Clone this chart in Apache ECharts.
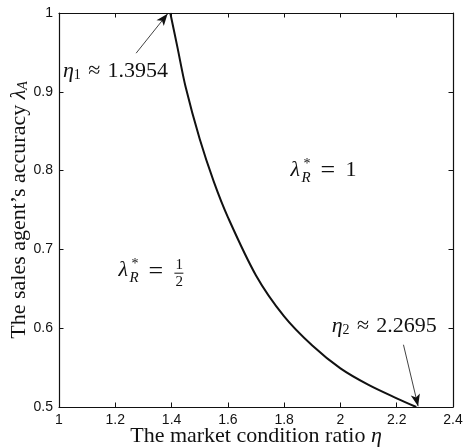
<!DOCTYPE html>
<html>
<head>
<meta charset="utf-8">
<title>market condition ratio</title>
<script src="https://cdn.jsdelivr.net/npm/echarts@6/dist/echarts.min.js"></script>
<style>
  html, body { margin: 0; padding: 0; background: #fff; }
</style>
</head>
<body>
<div id="main" style="width: 465px; height: 448px;"></div>
<script type="text/javascript">

// boundary curve
var etaValues = [1.3954, 1.42, 1.45, 1.5, 1.55, 1.6, 1.7, 1.8, 1.9, 2.0, 2.1, 2.2, 2.2695];
var accuracyValues = [1.0, 0.958, 0.906, 0.84, 0.786, 0.741, 0.667, 0.615, 0.578, 0.549, 0.528, 0.511, 0.5];

var xTicks = [1, 1.2, 1.4, 1.6, 1.8, 2, 2.2, 2.4];
var yTicks = [0.5, 0.6, 0.7, 0.8, 0.9, 1];

// arrows: [from, to] in data coords
var arrow1 = [[1.274, 0.949], [1.386, 0.999]];
var arrow2 = [[2.224, 0.579], [2.276, 0.501]];

var chartDom = document.getElementById('main');
var myChart = echarts.init(chartDom, null, { renderer: 'canvas' });

var serif = '"Liberation Serif", "DejaVu Serif", serif';
var sans = '"Liberation Sans", Arial, sans-serif';

var curve = etaValues.map(function (x, i) { return [x, accuracyValues[i]]; });

function mainAxis(min, max, step) {
  return {
    type: 'value',
    min: min,
    max: max,
    interval: step,
    axisLine: { show: true, onZero: false, lineStyle: { color: '#111', width: 1.2 } },
    axisTick: { show: true, inside: true, length: 4.5, lineStyle: { color: '#111', width: 1 } },
    axisLabel: { color: '#111', fontSize: 14, fontFamily: sans, margin: 6 },
    splitLine: { show: false }
  };
}

var xMain = mainAxis(xTicks[0], xTicks[xTicks.length - 1], 0.2);
xMain.position = 'bottom';
xMain.name = 'The market condition ratio {i|η}';
xMain.nameLocation = 'middle';
xMain.nameGap = 18;
xMain.nameMoveOverlap = false;
xMain.nameTextStyle = {
  fontFamily: serif, fontSize: 22, color: '#111',
  rich: { i: { fontFamily: serif, fontSize: 22, fontStyle: 'italic', color: '#111' } }
};
var xTop = mainAxis(xTicks[0], xTicks[xTicks.length - 1], 0.2);
xTop.position = 'top';
xTop.axisLabel = { show: false };

var yMain = mainAxis(yTicks[0], yTicks[yTicks.length - 1], 0.1);
yMain.position = 'left';
yMain.name = 'The sales agent\u2019s accuracy {i|λ}{s|A}';
yMain.nameLocation = 'middle';
yMain.nameRotate = 90;
yMain.nameGap = 29;
yMain.nameMoveOverlap = false;
yMain.nameTextStyle = {
  fontFamily: serif, fontSize: 22, color: '#111',
  rich: {
    i: { fontFamily: serif, fontSize: 22, fontStyle: 'italic', color: '#111' },
    s: { fontFamily: serif, fontSize: 14, fontStyle: 'italic', color: '#111', padding: [8, 0, 0, 0] }
  }
};
var yRight = mainAxis(yTicks[0], yTicks[yTicks.length - 1], 0.1);
yRight.position = 'right';
yRight.axisLabel = { show: false };

var option = {
  animation: false,
  backgroundColor: '#fff',
  grid: { left: 59, right: 12, top: 13, bottom: 41, containLabel: false, outerBoundsMode: 'none' },
  xAxis: [xMain, xTop],
  yAxis: [yMain, yRight],
  series: [
    {
      type: 'line',
      data: curve,
      smooth: 0.3,
      showSymbol: false,
      lineStyle: { color: '#111', width: 2 },
      markLine: {
        silent: true,
        symbol: ['none', 'arrow'],
        symbolSize: [7, 12],
        label: { show: false },
        lineStyle: { color: '#111', width: 0.8, type: 'solid' },
        data: [
          [{ coord: arrow1[0] }, { coord: arrow1[1] }],
          [{ coord: arrow2[0] }, { coord: arrow2[1] }]
        ]
      }
    }
  ]
};

myChart.setOption(option);

// text notes, anchored at data coordinates
function px(p) { return myChart.convertToPixel({ xAxisIndex: 0, yAxisIndex: 0 }, p); }

var mathRich = {
  m: { fontFamily: serif, fontSize: 22, fontStyle: 'italic', fill: '#111' },
  n: { fontFamily: serif, fontSize: 22, fill: '#111' },
  s: { fontFamily: serif, fontSize: 14, fill: '#111', padding: [9, 0, 0, 0] }
};

function etaNote(at, idx, val) {
  var p = px(at);
  return {
    type: 'text', x: p[0], y: p[1], silent: true,
    style: {
      text: '{m|η}{s|' + idx + '}{n|\u2004≈\u2004' + val + '}',
      rich: mathRich, align: 'left', verticalAlign: 'middle'
    }
  };
}

function piece(t, dx, dy, size, italic) {
  return {
    type: 'text', x: dx, y: dy,
    style: {
      text: t, fontFamily: serif, fontSize: size, fontStyle: italic ? 'italic' : 'normal',
      fill: '#111', align: 'left', verticalAlign: 'middle'
    }
  };
}

function lambdaNote(at, tail) {
  var p = px(at);
  var kids = [
    piece('λ', 0, 0, 22, true),
    piece('*', 13, -6, 14, false),
    piece('R', 11, 7, 15, true),
    piece('=', 30, 1, 26, false)
  ];
  return { type: 'group', x: p[0], y: p[1], silent: true, children: kids.concat(tail) };
}

var oneTail = [piece('1', 55, 0, 22, false)];
var halfTail = [
  piece('1', 57, -6, 15, false),
  { type: 'rect', shape: { x: 56, y: 2, width: 9, height: 1 }, style: { fill: '#111' } },
  piece('2', 57, 11, 15, false)
];

myChart.setOption({
  graphic: [
    etaNote([1.014, 0.926], 1, '1.3954'),
    etaNote([1.969, 0.603], 2, '2.2695'),
    lambdaNote([1.823, 0.8], oneTail),
    lambdaNote([1.211, 0.673], halfTail)
  ]
});
</script>
</body>
</html>
